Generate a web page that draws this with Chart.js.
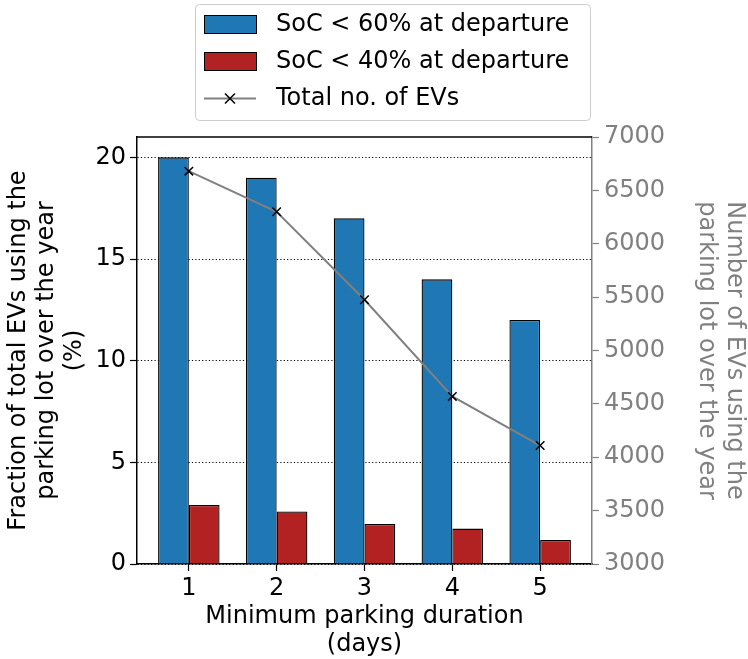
<!DOCTYPE html>
<html>
<head>
<meta charset="utf-8">
<script src="https://cdn.jsdelivr.net/npm/chart.js@4.4.1/dist/chart.umd.min.js"></script>
<style>
  html, body { margin: 0; padding: 0; background: #fff; }
  #wrap { width: 748px; height: 659px; }
</style>
</head>
<body>
<div id="wrap"><canvas id="evChart" width="748" height="659"></canvas></div>
<script>
// data
var days = [1, 2, 3, 4, 5];
var soc60 = [20, 19, 17, 14, 12];
var soc40 = [2.9, 2.58, 1.97, 1.74, 1.18];
var totalEVs = [6680, 6300, 5475, 4570, 4110];
var leftTicks = [0, 5, 10, 15, 20];
var rightTicks = [3000, 3500, 4000, 4500, 5000, 5500, 6000, 6500, 7000];

var GREY = '#808080';

function pts(vals) {
    return days.map(function (d, i) { return { x: d, y: vals[i] }; });
}

Chart.defaults.font.family = '"DejaVu Sans", sans-serif';
Chart.defaults.font.size = 24;
Chart.defaults.color = '#000';

// matplotlib style legend box in the top area
var legendBox = {
    id: 'legendBox',
    afterDraw: function (chart) {
        var ctx = chart.ctx;
        var x0 = 195.5, y0 = 4.5, w = 395, h = 116;
        ctx.save();
        ctx.beginPath();
        ctx.roundRect(x0, y0, w, h, 4);
        ctx.fillStyle = 'rgba(255,255,255,0.8)';
        ctx.fill();
        ctx.strokeStyle = '#cccccc';
        ctx.lineWidth = 1;
        ctx.stroke();

        var ds = chart.data.datasets;
        ctx.font = '24px "DejaVu Sans"';
        ctx.textBaseline = 'middle';
        ctx.textAlign = 'left';
        ds.forEach(function (d, i) {
            var cy = 24.5 + 37 * i;
            if (d.type === 'line') {
                ctx.strokeStyle = d.borderColor;
                ctx.lineWidth = d.borderWidth;
                ctx.beginPath();
                ctx.moveTo(204, cy);
                ctx.lineTo(256, cy);
                ctx.stroke();
                ctx.strokeStyle = d.pointBorderColor;
                ctx.lineWidth = 1.5;
                ctx.beginPath();
                ctx.moveTo(225, cy - 5); ctx.lineTo(235, cy + 5);
                ctx.moveTo(235, cy - 5); ctx.lineTo(225, cy + 5);
                ctx.stroke();
            } else {
                ctx.fillStyle = d.backgroundColor;
                ctx.fillRect(204.5, cy - 9, 52, 18);
                ctx.strokeStyle = '#000';
                ctx.lineWidth = 1;
                ctx.strokeRect(204.5, cy - 9, 52, 18);
            }
            ctx.fillStyle = '#000';
            ctx.fillText(d.label, 276, cy);
        });
        ctx.restore();
    }
};

// top spine
var topSpine = {
    id: 'topSpine',
    afterDraw: function (chart) {
        var a = chart.chartArea, ctx = chart.ctx;
        ctx.save();
        ctx.strokeStyle = '#000';
        ctx.lineWidth = 1.5;
        ctx.beginPath();
        ctx.moveTo(a.left, a.top);
        ctx.lineTo(a.right, a.top);
        ctx.stroke();
        ctx.restore();
    }
};

var ctx = document.getElementById('evChart').getContext('2d');
var evChart = new Chart(ctx, {
    type: 'bar',
    data: {
        datasets: [{
            label: 'SoC < 60% at departure',
            data: pts(soc60),
            yAxisID: 'y',
            backgroundColor: '#1f77b4',
            borderColor: '#000',
            borderWidth: 1.3,
            categoryPercentage: 0.7,
            barPercentage: 1.0,
            order: 1
        }, {
            label: 'SoC < 40% at departure',
            data: pts(soc40),
            yAxisID: 'y',
            backgroundColor: '#b22222',
            borderColor: '#000',
            borderWidth: 1.3,
            categoryPercentage: 0.7,
            barPercentage: 1.0,
            order: 1
        }, {
            type: 'line',
            label: 'Total no. of EVs',
            data: pts(totalEVs),
            yAxisID: 'y2',
            borderColor: GREY,
            borderWidth: 2,
            pointStyle: 'crossRot',
            pointRadius: 6,
            pointBorderColor: '#000',
            pointBorderWidth: 1.5,
            tension: 0,
            order: 0
        }]
    },
    options: {
        responsive: false,
        animation: false,
        layout: { padding: { top: 137, left: 0, right: 0, bottom: 0 } },
        plugins: {
            legend: { display: false },
            tooltip: { enabled: false }
        },
        scales: {
            x: {
                type: 'linear',
                offset: false,
                min: 0.41,
                max: 5.59,
                afterBuildTicks: function (axis) {
                    axis.ticks = days.map(function (v) { return { value: v }; });
                },
                afterFit: function (axis) { axis.height = 95; },
                ticks: { padding: 3, color: '#000' },
                grid: { offset: false, drawOnChartArea: false, tickLength: 7, color: '#000', tickWidth: 1.2 },
                border: { color: '#000', width: 1.5 },
                title: {
                    display: true,
                    text: ['Minimum parking duration', '(days)'],
                    font: { size: 24, lineHeight: 1.17 },
                    padding: { top: 0, bottom: 0 },
                    color: '#000'
                }
            },
            y: {
                position: 'left',
                min: 0,
                max: 21,
                afterBuildTicks: function (axis) {
                    axis.ticks = leftTicks.map(function (v) { return { value: v }; });
                },
                afterFit: function (axis) { axis.width = 137; },
                ticks: { padding: 4, color: '#000' },
                grid: {
                    color: '#000',
                    lineWidth: 1,
                    tickLength: 7,
                    tickColor: '#000',
                    tickWidth: 1.2,
                    tickBorderDash: []
                },
                border: { color: '#000', width: 1.5, dash: [1.2, 2.2] },
                title: {
                    display: true,
                    text: ['Fraction of total EVs using the', 'parking lot over the year', '(%)'],
                    font: { size: 24, lineHeight: 1.17 },
                    padding: { top: 5, bottom: 0 },
                    color: '#000'
                }
            },
            y2: {
                position: 'right',
                min: 3000,
                max: 7000,
                afterBuildTicks: function (axis) {
                    axis.ticks = rightTicks.map(function (v) { return { value: v }; });
                },
                afterFit: function (axis) { axis.width = 156; },
                ticks: {
                    padding: 5,
                    color: GREY,
                    callback: function (v) { return String(v); }
                },
                grid: { drawOnChartArea: false, tickLength: 7, color: GREY, tickWidth: 1.2 },
                border: { color: GREY, width: 1.5 },
                title: {
                    display: true,
                    text: ['Number of EVs using the', 'parking lot over the year'],
                    font: { size: 24, lineHeight: 1.17 },
                    padding: { top: 0, bottom: 0 },
                    color: GREY
                }
            }
        }
    },
    plugins: [legendBox, topSpine]
});
</script>
</body>
</html>
